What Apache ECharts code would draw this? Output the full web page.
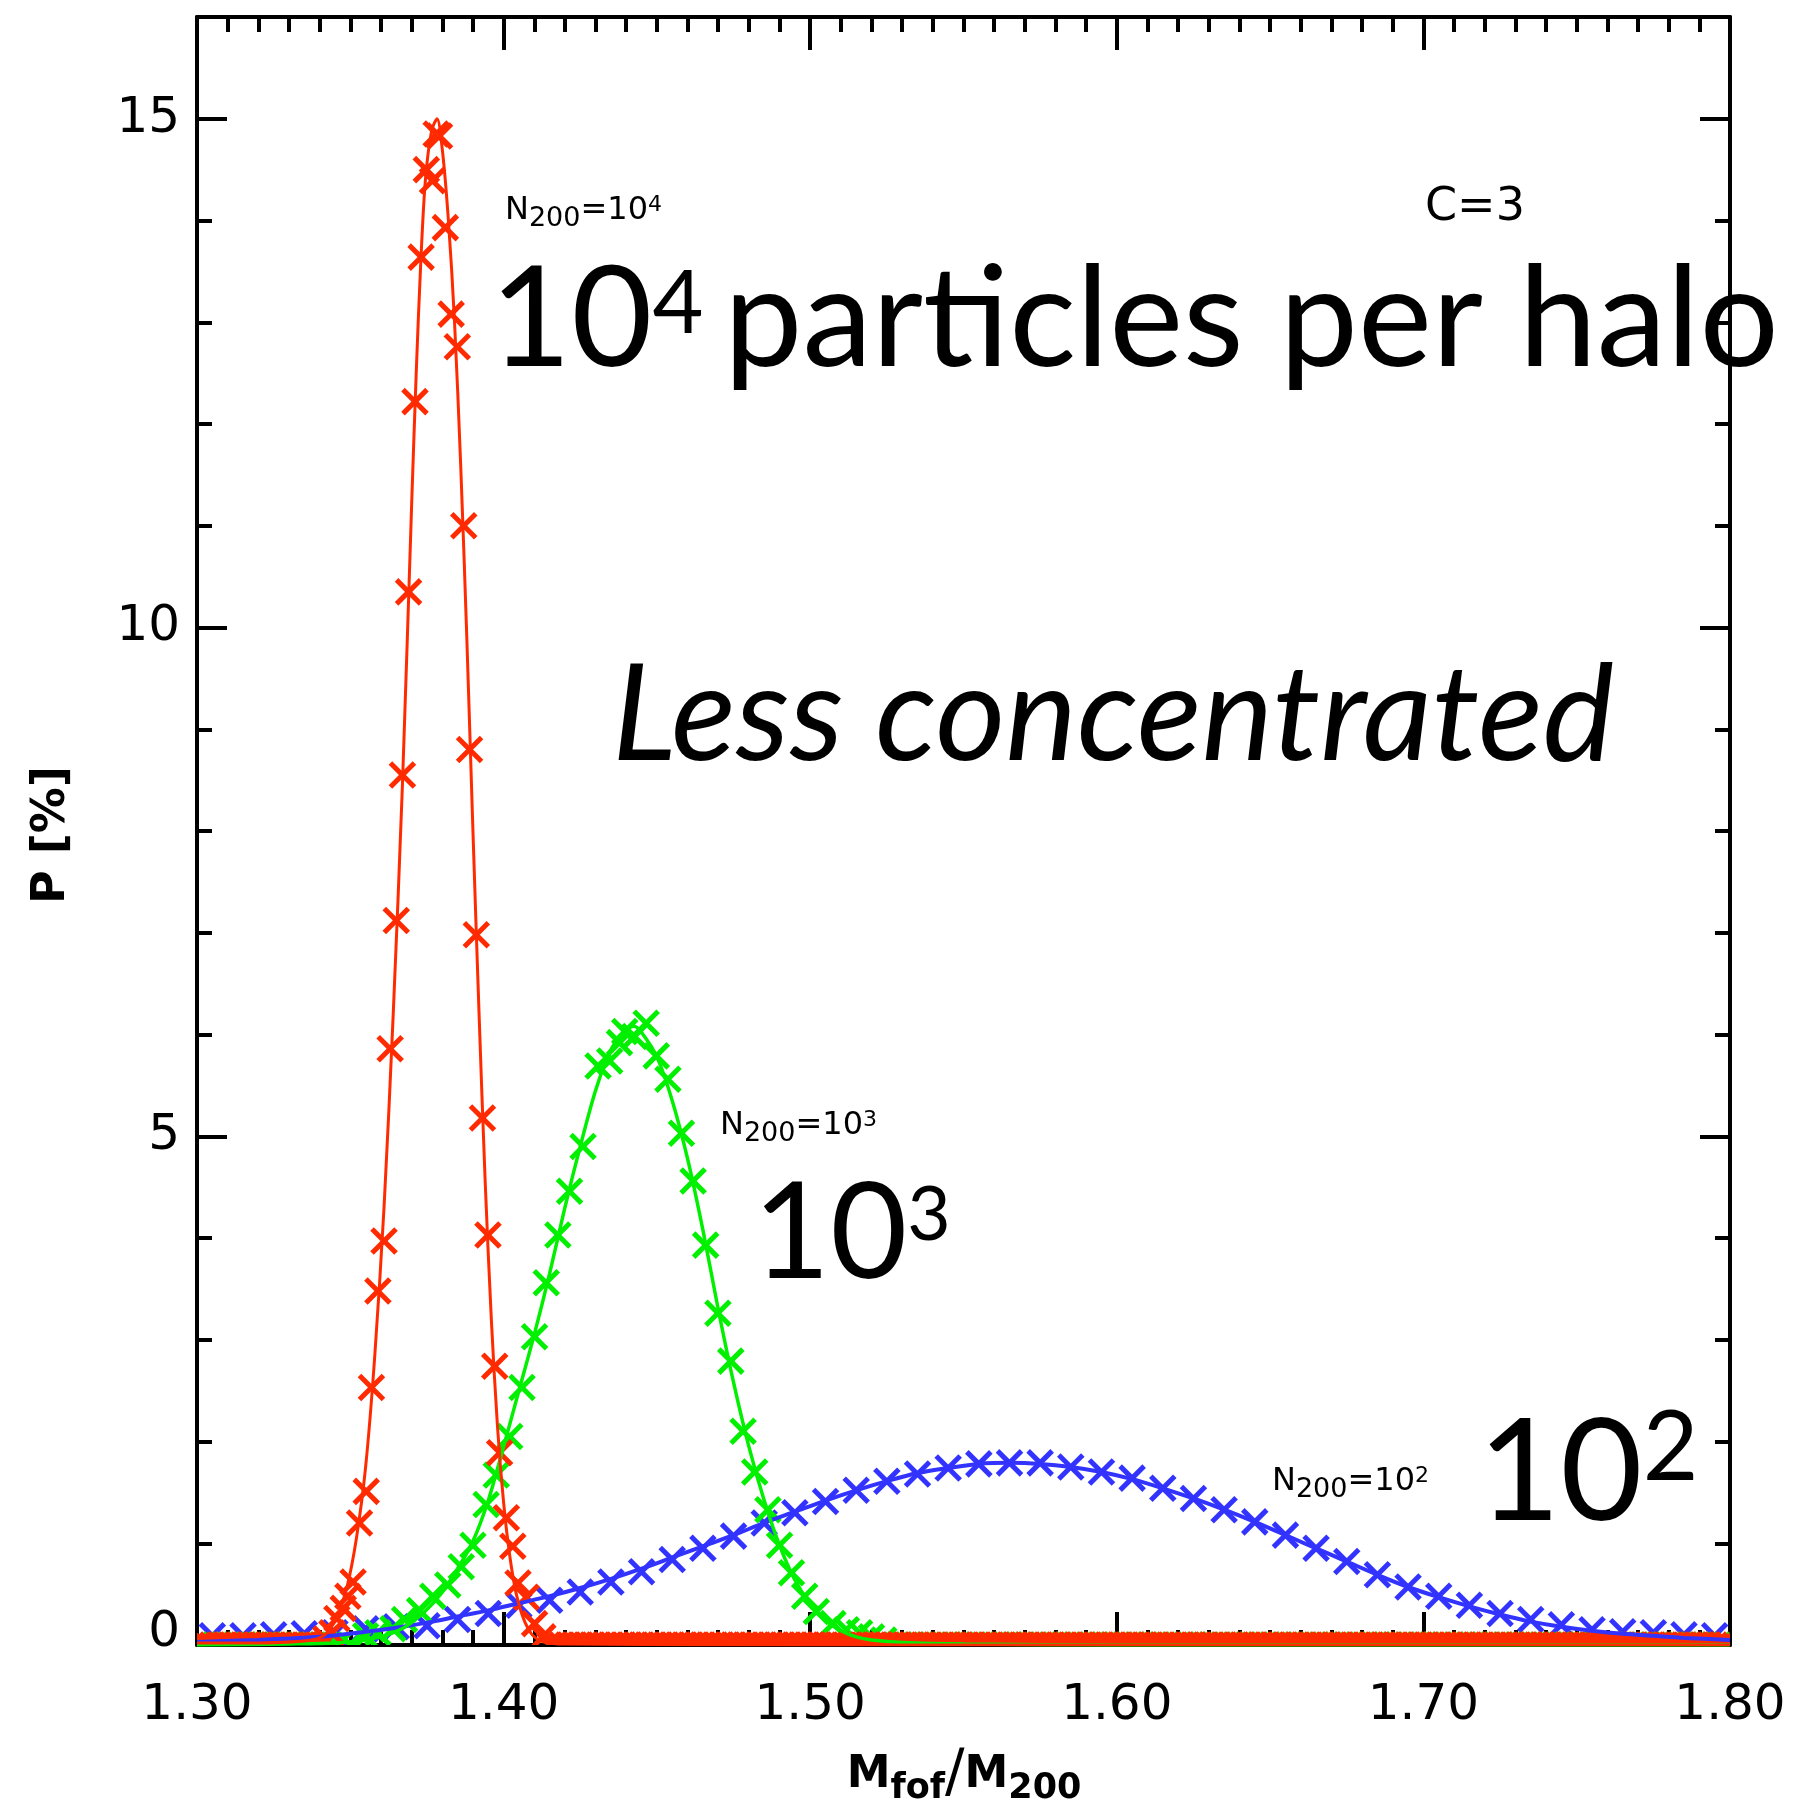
<!DOCTYPE html>
<html>
<head>
<meta charset="utf-8">
<script src="https://cdn.jsdelivr.net/npm/echarts@6.0.0/dist/echarts.min.js"></script>
<style>
  html, body { margin: 0; padding: 0; background: #fff; }
  #chart { width: 1797px; height: 1801px; }
</style>
</head>
<body>
<div id="chart"></div>
<script>
// axis ranges and tick labels
const xRange = [1.3, 1.8];
const yRange = [0, 16];
const xTickStep = 0.1;
const yTickStep = 5;

// histogram points (x = Mfof/M200, y = P [%])
const redPts = [
  [1.3420, 0.06], [1.3440, 0.12], [1.3456, 0.26], [1.3477, 0.36], [1.3492, 0.48],
  [1.3509, 0.62], [1.3530, 1.20], [1.3552, 1.51], [1.3569, 2.53], [1.3590, 3.48],
  [1.3610, 3.97], [1.3630, 5.86], [1.3650, 7.12], [1.3670, 8.55], [1.3690, 10.35],
  [1.3711, 12.22], [1.3731, 13.64], [1.3748, 14.50], [1.3768, 14.39], [1.3780, 14.85],
  [1.3791, 14.83], [1.3810, 13.93], [1.3829, 13.08], [1.3849, 12.76], [1.3870, 11.00],
  [1.3889, 8.80], [1.3911, 6.98], [1.3931, 5.18], [1.3949, 4.03], [1.3971, 2.74],
  [1.3987, 1.89], [1.4009, 1.25], [1.4030, 0.97], [1.4047, 0.61], [1.4074, 0.47],
  [1.4101, 0.21], [1.4128, 0.08]
];
const greenPts = [
  [1.3550, 0.09], [1.3590, 0.12], [1.3639, 0.16], [1.3677, 0.25], [1.3726, 0.34],
  [1.3769, 0.48], [1.3818, 0.59], [1.3862, 0.77], [1.3900, 0.98], [1.3943, 1.38],
  [1.3976, 1.67], [1.4020, 2.05], [1.4060, 2.53], [1.4101, 3.03], [1.4139, 3.56],
  [1.4177, 4.03], [1.4215, 4.46], [1.4259, 4.90], [1.4308, 5.69], [1.4346, 5.74],
  [1.4378, 5.92], [1.4395, 6.03], [1.4427, 5.98], [1.4465, 6.11], [1.4498, 5.79],
  [1.4536, 5.56], [1.4580, 5.03], [1.4618, 4.56], [1.4659, 3.93], [1.4699, 3.26],
  [1.4741, 2.79], [1.4781, 2.10], [1.4819, 1.70], [1.4862, 1.33], [1.4900, 0.98],
  [1.4939, 0.71], [1.4982, 0.48], [1.5020, 0.33], [1.5074, 0.21], [1.5118, 0.15],
  [1.5161, 0.12], [1.5200, 0.08], [1.5240, 0.05]
];
const bluePts = [
  [1.305, 0.09], [1.315, 0.09], [1.325, 0.10], [1.335, 0.11], [1.345, 0.12],
  [1.355, 0.16], [1.365, 0.18], [1.375, 0.19], [1.385, 0.25], [1.395, 0.31],
  [1.405, 0.39], [1.415, 0.44], [1.425, 0.52], [1.435, 0.62], [1.445, 0.72],
  [1.455, 0.84], [1.465, 0.95], [1.475, 1.07], [1.485, 1.20], [1.495, 1.30],
  [1.505, 1.41], [1.515, 1.52], [1.525, 1.61], [1.535, 1.68], [1.545, 1.74],
  [1.555, 1.78], [1.565, 1.79], [1.575, 1.79], [1.585, 1.75], [1.595, 1.70],
  [1.605, 1.64], [1.615, 1.54], [1.625, 1.44], [1.635, 1.33], [1.645, 1.21],
  [1.655, 1.08], [1.665, 0.95], [1.675, 0.82], [1.685, 0.69], [1.695, 0.57],
  [1.705, 0.48], [1.715, 0.39], [1.725, 0.31], [1.735, 0.25], [1.745, 0.20],
  [1.755, 0.15], [1.765, 0.13], [1.775, 0.12], [1.785, 0.10], [1.795, 0.09]
];
// empty bins (P = 0): [from, to, bin width]
const redEmpty = [[1.301, 1.341, 0.002], [1.415, 1.799, 0.002]];
const greenEmpty = [[1.302, 1.350, 0.004], [1.528, 1.798, 0.004]];

// fitted curves
const redFit = [
  [1.300, 0.02], [1.320, 0.02], [1.335, 0.04], [1.340, 0.07], [1.343, 0.14],
  [1.346, 0.30], [1.349, 0.58], [1.352, 1.05], [1.355, 1.75], [1.358, 2.85],
  [1.361, 4.30], [1.364, 6.20], [1.367, 8.45], [1.3700, 11.2], [1.3715, 12.5],
  [1.3730, 13.6], [1.3745, 14.4], [1.3765, 14.88], [1.3783, 15.0], [1.380, 14.7],
  [1.382, 14.0], [1.384, 13.0], [1.386, 11.6], [1.388, 9.9], [1.390, 8.0],
  [1.392, 6.2], [1.394, 4.55], [1.396, 3.2], [1.398, 2.15], [1.400, 1.40],
  [1.402, 0.88], [1.404, 0.52], [1.406, 0.30], [1.408, 0.16], [1.410, 0.08],
  [1.413, 0.03], [1.420, 0.01], [1.500, 0.0], [1.800, 0.0]
];
const greenFit = [
  [1.300, 0.00], [1.330, 0.01], [1.345, 0.02], [1.355, 0.05], [1.362, 0.10],
  [1.368, 0.18], [1.374, 0.32], [1.380, 0.52], [1.385, 0.75], [1.390, 1.02],
  [1.395, 1.42], [1.400, 1.95], [1.405, 2.50], [1.410, 3.05], [1.415, 3.65],
  [1.420, 4.30], [1.425, 4.90], [1.430, 5.45], [1.435, 5.85], [1.440, 6.05],
  [1.4425, 6.08], [1.445, 6.02], [1.450, 5.78], [1.455, 5.35], [1.460, 4.78],
  [1.465, 4.08], [1.470, 3.30], [1.475, 2.58], [1.480, 1.95], [1.485, 1.42],
  [1.490, 0.98], [1.495, 0.64], [1.500, 0.40], [1.505, 0.24], [1.510, 0.14],
  [1.515, 0.08], [1.520, 0.05], [1.530, 0.025], [1.550, 0.01], [1.600, 0.0],
  [1.800, 0.0]
];
const blueFit = [
  [1.300, 0.03], [1.320, 0.05], [1.340, 0.08], [1.355, 0.13], [1.365, 0.17],
  [1.375, 0.22], [1.385, 0.28], [1.395, 0.34], [1.405, 0.41], [1.415, 0.48],
  [1.425, 0.56], [1.435, 0.65], [1.445, 0.75], [1.455, 0.86], [1.465, 0.97],
  [1.475, 1.08], [1.485, 1.20], [1.495, 1.31], [1.505, 1.42], [1.515, 1.52],
  [1.525, 1.61], [1.535, 1.69], [1.545, 1.74], [1.555, 1.78], [1.565, 1.79],
  [1.575, 1.78], [1.585, 1.75], [1.595, 1.70], [1.605, 1.63], [1.615, 1.54],
  [1.625, 1.44], [1.635, 1.33], [1.645, 1.21], [1.655, 1.08], [1.665, 0.95],
  [1.675, 0.82], [1.685, 0.69], [1.695, 0.57], [1.705, 0.47], [1.715, 0.38],
  [1.725, 0.30], [1.735, 0.23], [1.745, 0.18], [1.755, 0.14], [1.765, 0.11],
  [1.775, 0.09], [1.785, 0.07], [1.800, 0.05]
];

const RED = '#ff2a00', GREEN = '#00f000', BLUE = '#3333ff';
const TICK_FONT = 'DejaVu Sans';
const BIG_FONT = 'Lato';

// zero bins -> points at P = 0
function emptyBins(ranges) {
  const out = [];
  ranges.forEach(function (r) {
    for (let x = r[0]; x <= r[1] + 1e-9; x += r[2]) out.push([+x.toFixed(4), 0]);
  });
  return out;
}

// IDL-style "x" markers, clipped at the plot frame
function crossSeries(name, pts, color) {
  return {
    type: 'custom', name: name, data: pts, clip: true, z: 2, silent: true,
    renderItem: function (params, api) {
      const p = api.coord([api.value(0), api.value(1)]);
      const h = 12;
      const st = { stroke: color, lineWidth: 5, fill: null };
      return {
        type: 'group',
        children: [
          { type: 'line', shape: { x1: p[0] - h, y1: p[1] - h, x2: p[0] + h, y2: p[1] + h }, style: st },
          { type: 'line', shape: { x1: p[0] - h, y1: p[1] + h, x2: p[0] + h, y2: p[1] - h }, style: st }
        ]
      };
    }
  };
}

function curveSeries(name, pts, color, width) {
  return {
    type: 'line', name: name, data: pts, smooth: 0.3, symbol: 'none', z: 3,
    lineStyle: { color: color, width: width }, clip: true
  };
}

const black = { color: '#000', width: 4 };

function xAx(pos, labels) {
  return {
    type: 'value', position: pos, min: xRange[0], max: xRange[1], interval: xTickStep,
    axisLine: { show: true, onZero: false, lineStyle: black },
    axisTick: { show: true, inside: true, length: 33, lineStyle: black },
    minorTick: { show: true, splitNumber: 10, length: 15, lineStyle: black },
    splitLine: { show: false }, minorSplitLine: { show: false },
    axisLabel: {
      show: labels, margin: 36, color: '#000', fontFamily: TICK_FONT, fontSize: 50, lineHeight: 50,
      formatter: function (v) { return v.toFixed(2); }
    }
  };
}

function yAx(pos, step, tickLen, labels) {
  return {
    type: 'value', position: pos, min: yRange[0], max: yRange[1], interval: step,
    axisLine: { show: step === yTickStep, onZero: false, lineStyle: black },
    axisTick: { show: true, inside: true, length: tickLen, lineStyle: black },
    splitLine: { show: false },
    axisLabel: {
      show: labels, margin: 17, color: '#000', fontFamily: TICK_FONT, fontSize: 50, lineHeight: 50,
      showMaxLabel: false,
      formatter: function (v) {
        if (v === 0) return '{z|0}';
        return v % yTickStep === 0 ? String(v) : '';
      },
      rich: { z: { fontFamily: TICK_FONT, fontSize: 50, lineHeight: 50, color: '#000', padding: [0, 0, 24, 0] } }
    }
  };
}

function txt(x, y, text, rich, extra) {
  return {
    type: 'text', x: x, y: y, z: 50,
    style: Object.assign({ text: text, rich: rich, fill: '#000', textAlign: 'left', textVerticalAlign: 'middle' }, extra || {})
  };
}

function nLabel(x, yMid, exp) {
  return txt(x, yMid, '{n|N}{s|200}{n|=10}{p|' + exp + '}', {
    n: { fontFamily: TICK_FONT, fontSize: 32, lineHeight: 32, fill: '#000' },
    s: { fontFamily: TICK_FONT, fontSize: 27, lineHeight: 27, padding: [16, 0, 0, 0], fill: '#000' },
    p: { fontFamily: TICK_FONT, fontSize: 22, lineHeight: 22, padding: [0, 0, 11, 0], fill: '#000' }
  });
}

function bigPower(x, yMid, exp, F, f, pad) {
  return txt(x, yMid, '{a|10}{b|' + exp + '}', {
    a: { fontFamily: BIG_FONT, fontSize: F, lineHeight: F, fill: '#000' },
    b: { fontFamily: BIG_FONT, fontSize: f, lineHeight: f, padding: [0, 0, pad, 0], fill: '#000' }
  });
}

const chart = echarts.init(document.getElementById('chart'), null, { renderer: 'canvas' });

chart.setOption({
  animation: false,
  backgroundColor: '#fff',
  grid: { left: 197, top: 17, width: 1533, height: 1628 },
  xAxis: [xAx('bottom', true), xAx('top', false)],
  yAxis: [
    yAx('left', yTickStep, 30, true), yAx('left', 1, 15, false),
    yAx('right', yTickStep, 30, false), yAx('right', 1, 15, false)
  ],
  series: [
    crossSeries('N200=1e2', bluePts, BLUE),
    crossSeries('N200=1e3', emptyBins(greenEmpty).concat(greenPts), GREEN),
    crossSeries('N200=1e4', emptyBins(redEmpty).concat(redPts), RED),
    curveSeries('fit 1e2', blueFit, BLUE, 4),
    curveSeries('fit 1e3', greenFit, GREEN, 3.5),
    curveSeries('fit 1e4', redFit, RED, 3)
  ],
  graphic: [
    // axis titles
    txt(964, 1776, '{m|M}{s|fof}{l|/}{m|M}{s|200}', {
      m: { fontFamily: TICK_FONT, fontWeight: 'bold', fontSize: 44, lineHeight: 44, fill: '#000' },
      l: { fontFamily: TICK_FONT, fontSize: 58, lineHeight: 58, fill: '#000' },
      s: { fontFamily: TICK_FONT, fontWeight: 'bold', fontSize: 35, lineHeight: 35, padding: [26, 0, 0, 0], fill: '#000' }
    }, { textAlign: 'center' }),
    {
      type: 'text', x: 52, y: 835, rotation: Math.PI / 2, z: 50,
      style: { text: 'P [%]', fill: '#000', font: 'bold 46px "DejaVu Sans"', textAlign: 'center', textVerticalAlign: 'middle' }
    },
    // annotations
    nLabel(505, 210.6, '4'),
    nLabel(720, 1126, '3'),
    nLabel(1272, 1482, '2'),
    txt(1425, 208, 'C=3', null, { font: '46px "DejaVu Sans"' }),
    bigPower(490, 321, '4', 140, 88, 33),
    txt(724, 321, 'particles per halo', null, { font: '140px "Lato"' }),
    txt(612, 716, 'Less concentrated', null, { font: 'italic 135px "Lato"' }),
    bigPower(753, 1235, '3', 133, 75, 38),
    bigPower(1478, 1474, '2', 142, 96, 50)
  ]
});
</script>
</body>
</html>
